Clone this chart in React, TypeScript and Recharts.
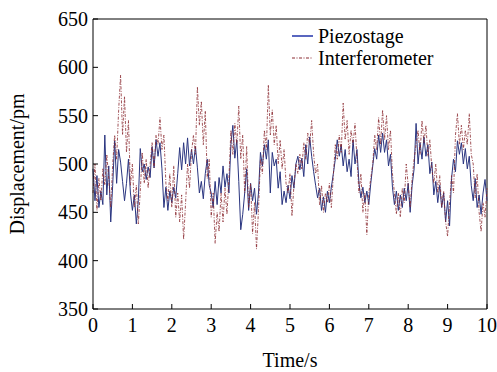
import React from "react";
import {
  LineChart,
  Line,
  XAxis,
  YAxis,
  Legend,
  ReferenceLine,
} from "recharts";

const timeStep = 0.05;

const piezostage = [
  495, 462, 488, 455, 472, 458, 530, 468, 498, 440, 478, 524, 480, 515, 502, 482, 462, 480, 505, 470,
  452, 468, 438, 462, 516, 492, 500, 484, 497, 486, 518, 496, 525, 508, 522, 495, 455, 476, 452, 472,
  460, 476, 465, 490, 517, 494, 522, 500, 527, 498, 515, 500, 518, 496, 470, 482, 464, 490, 505, 478,
  470, 455, 482, 458, 486, 470, 498, 476, 490, 470, 520, 540, 506, 525, 482, 432, 448, 470, 495, 452,
  480, 462, 475, 448, 470, 512, 498, 520, 505, 525, 470, 512, 498, 505, 475, 492, 458, 472, 460, 478,
  464, 488, 475, 500, 508, 494, 506, 487, 520, 500, 528, 508, 492, 478, 465, 475, 452, 466, 450, 472,
  460, 476, 490, 505, 525, 508, 520, 498, 515, 492, 505, 487, 525, 500, 515, 480, 465, 476, 460, 472,
  458, 480, 498, 516, 505, 530, 512, 532, 512, 525, 498, 510, 476, 458, 472, 452, 468, 455, 475, 462,
  480, 450, 478, 495, 542, 500, 522, 505, 528, 508, 520, 490, 502, 468, 482, 460, 478, 455, 470, 440,
  462, 436, 485, 505, 492, 524, 510, 522, 500, 516, 495, 508, 478, 462, 485, 455, 468, 448, 470, 484,
  462,
];

const interferometer = [
  470, 500, 452, 485, 462, 495, 478, 510, 485, 455, 500, 530, 505, 555, 592, 530, 570, 512, 545, 478,
  500, 455, 478, 438, 472, 512, 480, 505, 475, 500, 522, 496, 530, 520, 548, 515, 530, 480, 462, 490,
  455, 498, 445, 470, 440, 468, 422, 460, 500, 475, 512, 530, 510, 580, 540, 565, 520, 555, 485, 505,
  445, 470, 418, 450, 430, 470, 440, 475, 448, 485, 535, 510, 542, 520, 560, 505, 530, 470, 518, 455,
  480, 428, 460, 412, 452, 505, 490, 535, 515, 582, 530, 556, 520, 540, 500, 525, 495, 515, 480, 470,
  490, 446, 478, 500, 490, 510, 495, 522, 505, 532, 520, 545, 510, 490, 500, 458, 478, 450, 470, 460,
  480, 455, 488, 520, 505, 530, 512, 563, 525, 545, 510, 535, 520, 542, 505, 470, 490, 450, 470, 427,
  470, 485, 500, 530, 515, 548, 520, 556, 525, 550, 515, 535, 490, 470, 448, 470, 445, 475, 460, 500,
  478, 455, 485, 505, 520, 535, 510, 545, 522, 540, 508, 525, 495, 480, 500, 470, 488, 455, 472, 440,
  425, 460, 488, 470, 530, 552, 520, 540, 515, 535, 520, 552, 510, 500, 465, 490, 450, 430, 460, 445,
  475,
];

const xTicks = [0, 1, 2, 3, 4, 5, 6, 7, 8, 9, 10];
const yTicks = [350, 400, 450, 500, 550, 600, 650];

const data = piezostage.map((p, i) => ({
  t: Math.round(i * timeStep * 100) / 100,
  piezostage: p,
  interferometer: interferometer[i],
}));

const FONT = "'Liberation Serif', 'Times New Roman', serif";
const BLUE = "#2a3580";
const RED = "#8a2a30";

const LegendBox = () => (
  <svg width={170} height={50}>
    <line x1={2} y1={10} x2={23} y2={10} stroke="#2233aa" strokeWidth={1.5} />
    <text x={28} y={17} fontFamily={FONT} fontSize={20} fill="#000">
      Piezostage
    </text>
    <line x1={2} y1={32} x2={23} y2={32} stroke={RED} strokeWidth={1.2} strokeDasharray="3 1.5 1 1.5" />
    <text x={28} y={39} fontFamily={FONT} fontSize={20} fill="#000">
      Interferometer
    </text>
  </svg>
);

export default function App() {
  return (
    <div style={{ position: "absolute", left: 0, top: 0, background: "#fff" }}>
      <LineChart
        width={497}
        height={372}
        data={data}
        margin={{ top: 19, right: 10, left: 33, bottom: 33 }}
      >
        <XAxis
          dataKey="t"
          type="number"
          domain={[0, 10]}
          ticks={xTicks}
          interval={0}
          height={30}
          tickSize={-5}
          tickMargin={14}
          stroke="#000"
          tick={{ fill: "#000", fontSize: 20, fontFamily: FONT }}
          label={{
            value: "Time/s",
            position: "insideBottom",
            offset: -28,
            fill: "#000",
            fontSize: 20,
            fontFamily: FONT,
          }}
        />
        <YAxis
          type="number"
          domain={[350, 650]}
          ticks={yTicks}
          interval={0}
          width={60}
          tickSize={-5}
          tickMargin={10}
          stroke="#000"
          tick={{ fill: "#000", fontSize: 20, fontFamily: FONT }}
          label={{
            value: "Displacement/pm",
            angle: -90,
            position: "insideLeft",
            offset: -16,
            style: { textAnchor: "middle" },
            fill: "#000",
            fontSize: 20,
            fontFamily: FONT,
          }}
        />
        <ReferenceLine y={650} stroke="#000" />
        <ReferenceLine x={10} stroke="#000" />
        <Legend
          layout="vertical"
          verticalAlign="middle"
          align="center"
          content={() => <LegendBox />}
          wrapperStyle={{ left: 290, top: 26, width: 170 }}
        />
        <Line
          type="linear"
          dataKey="piezostage"
          name="Piezostage"
          stroke={BLUE}
          strokeWidth={1}
          dot={false}
          isAnimationActive={false}
        />
        <Line
          type="linear"
          dataKey="interferometer"
          name="Interferometer"
          stroke={RED}
          strokeWidth={0.8}
          strokeDasharray="3 1.5 1 1.5"
          dot={false}
          isAnimationActive={false}
        />
      </LineChart>
    </div>
  );
}
